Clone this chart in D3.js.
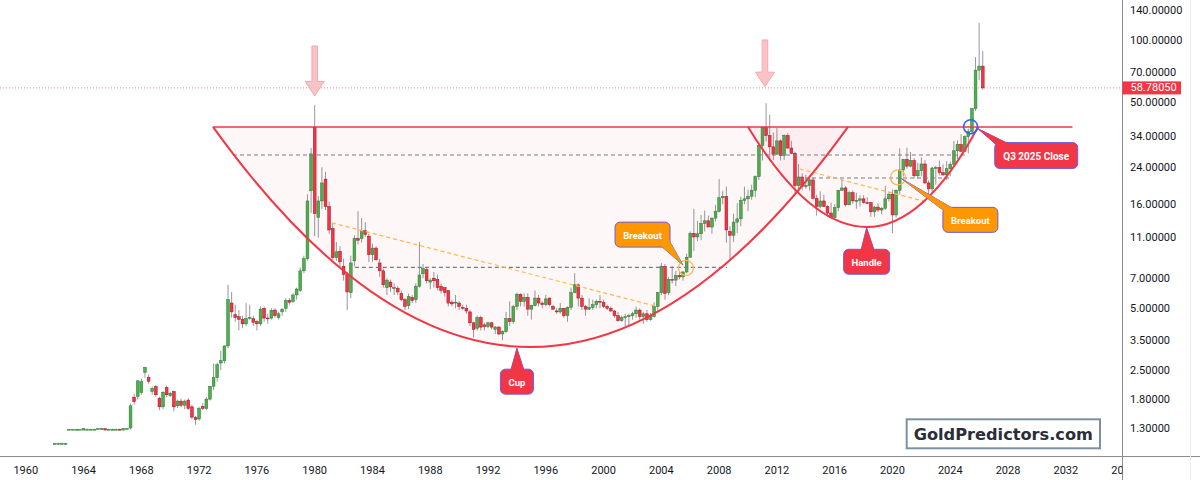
<!DOCTYPE html>
<html>
<head>
<meta charset="utf-8">
<script src="https://cdn.jsdelivr.net/npm/d3@7"></script>
<style>
  body { margin: 0; background: #fff; }
  svg { display: block; font-family: Roboto, "Liberation Sans", sans-serif; }
</style>
</head>
<body>
<svg id="chart" width="1200" height="480"></svg>
<script>
// quarterly silver candles, first candle = Q1 1962, one row per year (Q1..Q4)
const firstYear = 1962;
const open = [
  1.10,1.10,1.10,1.10, 1.28,1.29,1.29,1.29, 1.28,1.29,1.29,1.29, 1.29,1.30,1.30,1.29,
  1.29,1.29,1.29,1.28, 1.30,1.31,1.85,1.86, 1.95,2.44,2.31,1.97, 2.08,1.83,1.66,2.06,
  1.88,1.97,1.68,1.77, 1.69,1.79,1.66,1.47, 1.45,1.67,1.63,1.81, 2.09,2.30,2.71,2.78,
  3.28,5.30,4.65,4.55, 4.42,4.20,4.46,4.45, 4.30,4.20,5.00,4.48, 4.48,4.90,4.50,4.80,
  5.00,5.45,5.40,5.80, 6.10,7.60,8.70,18.6, 37.9,13.8,16.6,21.2, 15.6,12.2,8.80,9.45,
  8.00,7.30,5.95,8.50, 10.9,10.9,11.9,11.2, 9.10,9.80,8.30,7.60, 6.30,6.70,6.30,6.25,
  5.90,5.50,5.15,5.65, 5.50,6.40,7.35,7.70, 6.70,7.00,6.90,6.40, 6.30,6.10,5.35,5.30,
  5.30,5.05,5.00,4.80, 4.25,4.00,4.50,4.15, 4.08,4.25,3.95,4.05, 3.75,3.85,4.45,4.30,
  5.10,5.85,5.40,5.65, 4.95,5.15,5.60,5.30, 5.20,5.60,5.10,4.85, 4.80,5.00,4.60,5.05,
  5.95,6.50,5.60,5.10, 4.95,5.05,5.20,5.40, 5.35,5.10,5.00,4.85, 4.60,4.35,4.50,4.55,
  4.60,4.70,4.90,4.55, 4.70,4.40,4.55,5.10, 5.95,8.00,5.95,6.90, 6.85,7.20,7.10,7.50,
  8.85,11.55,11.1,11.5, 12.9,13.3,12.4,13.7, 14.8,17.2,17.4,11.8, 11.3,13.1,13.6,16.7,
  17.0,17.5,18.7,21.8, 30.9,37.9,34.5,30.4, 28.0,32.5,27.6,34.5, 30.0,28.3,19.7,21.7,
  19.5,19.7,21.0,17.1, 15.6,16.6,15.6,14.5, 13.8,15.4,18.7,19.2, 15.9,18.2,16.6,16.7,
  17.0,16.3,16.3,14.7, 15.5,15.0,15.3,17.0, 17.9,14.2,18.7,23.5, 26.4,24.5,26.1,22.0,
  23.3,25.1,20.3,19.0, 24.0,24.1,22.8,22.2, 23.8,25.0,29.1,31.2, 28.9,34.1,36.1,46.6,
  71.7,75.0
];
const high = [
  1.11,1.11,1.11,1.11, 1.29,1.29,1.29,1.29, 1.31,1.30,1.30,1.30, 1.31,1.31,1.30,1.30,
  1.30,1.30,1.30,1.31, 1.30,1.72,1.92,2.24, 2.28,2.60,2.38,2.08, 2.12,1.86,1.98,2.10,
  1.96,1.99,1.80,1.82, 1.80,1.83,1.70,1.50, 1.66,1.73,1.85,2.10, 2.70,2.72,3.10,3.30,
  6.50,6.00,5.20,4.90, 4.60,5.30,5.20,4.60, 4.40,5.10,5.10,4.70, 5.00,5.00,4.80,5.00,
  5.60,5.60,5.90,6.30, 7.90,9.00,17.9,30.0, 48.5,17.5,24.2,23.0, 16.5,12.9,10.5,10.0,
  8.70,7.50,9.00,11.3, 14.8,13.7,13.1,11.5, 10.3,10.0,8.70,7.80, 7.00,6.90,6.60,6.40,
  6.10,5.60,5.90,5.80, 6.60,10.5,8.20,7.90, 7.00,7.50,7.30,6.60, 6.30,6.10,5.50,5.80,
  5.40,5.20,5.20,4.90, 4.30,4.60,4.60,4.25, 4.30,4.30,4.10,4.10, 3.90,4.80,5.40,5.20,
  5.95,5.90,5.90,5.90, 5.20,6.10,5.80,5.40, 5.80,5.65,5.20,5.00, 5.30,5.00,5.10,6.30,
  7.40,6.60,5.80,5.20, 5.60,5.50,5.50,5.80, 5.50,5.20,5.10,4.90, 4.80,4.60,4.70,4.70,
  4.80,5.10,5.00,4.80, 4.90,4.75,5.35,6.00, 8.30,8.20,7.10,8.00, 7.60,7.50,7.60,9.20,
  11.8,15.2,13.3,14.2, 14.9,14.1,13.8,15.9, 21.2,18.6,19.5,12.5, 14.4,16.2,17.4,19.5,
  18.8,19.9,22.1,31.3, 38.2,49.5,43.5,35.7, 37.5,33.0,35.0,35.4, 32.5,28.8,25.1,22.6,
  22.2,21.6,21.6,17.8, 18.5,17.8,15.8,16.3, 16.0,18.8,21.1,19.6, 18.6,18.7,18.2,17.7,
  17.7,17.3,16.4,15.7, 16.2,15.5,19.7,18.2, 18.9,18.9,29.9,26.6, 30.1,28.7,26.8,25.4,
  27.0,26.2,20.9,24.3, 24.6,26.1,25.0,25.9, 25.8,32.5,32.7,35.0, 34.6,37.3,46.9,83.0,
  121.6,89.0
];
const low = [
  1.09,1.09,1.09,1.09, 1.28,1.28,1.28,1.29, 1.28,1.28,1.29,1.29, 1.29,1.29,1.28,1.29,
  1.28,1.28,1.28,1.28, 1.29,1.29,1.70,1.80, 1.90,2.30,2.15,1.90, 1.86,1.60,1.62,1.85,
  1.85,1.58,1.64,1.65, 1.62,1.60,1.45,1.36, 1.42,1.60,1.60,1.78, 2.00,2.20,2.50,2.70,
  3.20,4.50,4.30,3.90, 4.00,4.10,4.40,4.10, 3.90,4.10,4.30,4.20, 4.40,4.50,4.40,4.60,
  4.80,5.20,5.30,5.50, 6.00,7.40,8.50,14.5, 11.2,11.0,15.2,15.0, 11.5,8.60,8.50,7.90,
  6.80,4.90,5.60,8.00, 10.2,10.4,11.1,8.40, 8.40,8.50,7.10,6.30, 5.80,6.00,5.80,5.80,
  5.40,4.90,4.95,5.30, 5.30,6.30,7.00,6.60, 6.20,6.30,6.10,5.90, 5.70,5.10,5.10,5.00,
  4.90,4.90,4.70,4.10, 3.60,3.90,3.90,3.90, 4.00,3.95,3.75,3.70, 3.50,3.80,4.10,4.20,
  4.90,5.10,5.10,4.60, 4.40,5.10,5.10,5.00, 5.10,5.10,4.90,4.70, 4.70,4.50,4.30,4.90,
  5.90,5.10,4.90,4.60, 4.90,4.90,5.00,5.00, 5.00,4.90,4.80,4.50, 4.30,4.30,4.10,4.10,
  4.40,4.50,4.40,4.20, 4.30,4.35,4.50,4.80, 5.80,5.50,5.80,6.60, 6.40,6.90,6.80,7.40,
  8.80,9.50,10.6,10.7, 11.8,12.5,11.5,13.2, 14.6,16.0,10.4,8.50, 10.5,11.6,12.5,16.0,
  14.8,16.8,17.3,21.0, 26.1,32.3,26.1,26.2, 27.8,26.1,26.2,29.9, 28.0,18.2,18.2,18.8,
  19.0,18.6,16.9,14.1, 15.3,15.5,13.9,13.6, 13.7,14.8,18.6,15.6, 15.8,16.1,15.2,15.6,
  16.1,16.0,13.9,13.9, 14.7,14.3,15.0,16.5, 11.6,13.8,17.8,21.8, 23.8,24.2,21.4,21.4,
  21.9,20.1,17.6,18.1, 19.9,22.1,22.0,21.0, 21.9,24.9,26.5,28.8, 28.7,28.3,35.3,45.5,
  64.0,57.5
];
const close = [
  1.10,1.10,1.10,1.10, 1.29,1.29,1.29,1.29, 1.30,1.29,1.29,1.29, 1.30,1.30,1.28,1.29,
  1.29,1.29,1.28,1.30, 1.30,1.68,1.76,2.22, 2.20,2.58,2.21,2.04, 1.90,1.66,1.95,1.90,
  1.93,1.66,1.77,1.69, 1.77,1.63,1.48,1.44, 1.63,1.63,1.81,2.09, 2.30,2.66,2.78,3.28,
  5.50,4.80,4.50,4.42, 4.20,4.46,4.50,4.27, 4.20,4.95,4.48,4.45, 4.88,4.60,4.70,4.95,
  5.45,5.35,5.80,6.20, 7.60,8.70,16.6,28.1, 14.4,16.6,20.3,15.6, 12.0,8.80,9.40,8.40,
  7.30,6.00,8.30,10.9, 10.7,11.9,11.4,9.10, 9.80,8.60,7.60,6.50, 6.85,6.35,6.30,6.00,
  5.50,5.10,5.70,5.45, 6.40,7.25,7.80,6.80, 6.85,6.80,6.30,6.10, 5.95,5.30,5.25,5.35,
  5.10,5.00,4.85,4.25, 3.95,4.50,4.05,4.08, 4.25,4.05,4.05,3.75, 3.85,4.45,4.30,5.10,
  5.85,5.40,5.65,4.95, 5.15,5.60,5.30,5.20, 5.55,5.20,4.95,4.80, 5.00,4.60,5.05,5.95,
  6.50,5.60,5.10,4.95, 5.05,5.20,5.40,5.35, 5.10,5.00,4.85,4.60, 4.35,4.50,4.55,4.60,
  4.70,4.90,4.55,4.70, 4.40,4.55,5.10,5.95, 8.00,5.90,6.90,6.85, 7.20,7.10,7.50,8.85,
  11.55,11.1,11.5,12.9, 13.3,12.4,13.7,14.8, 17.2,17.5,12.0,11.3, 13.1,13.6,16.7,17.0,
  17.5,18.7,21.8,30.9, 37.9,34.5,30.4,28.0, 32.5,27.6,34.5,30.0, 28.3,19.7,21.7,19.5,
  19.7,21.0,17.1,15.6, 16.6,15.6,14.5,13.8, 15.4,18.7,19.2,15.9, 18.2,16.6,16.7,17.0,
  16.3,16.25,14.7,15.5, 15.0,15.3,17.0,17.9, 14.2,18.7,23.5,26.4, 24.5,26.1,22.0,23.3,
  25.1,20.3,19.0,24.0, 24.1,22.8,22.2,23.8, 25.0,29.1,31.2,28.9, 34.1,36.1,46.6,71.7,
  75.0,58.7805
];

const priceTicks = [1.3, 1.8, 2.5, 3.5, 5, 7, 11, 16, 24, 34, 50, 70, 100, 140];
const yearTicks = d3.range(1960, 2037, 4);
const lastPrice = 58.7805;

// cup & handle drawing anchors: [year, price]
const rim = { from: 1972.96, to: 2032.46, price: 38.0 };
const cup = { left: 1972.96, right: 2016.92, bottomYear: 1994.94, bottomPrice: 3.24 };
const handle = { left: 2010.0, right: 2025.92, bottomYear: 2018.21, bottomPrice: 12.41 };
const levels = [
  { from: 1974.34, to: 2025.04, price: 27.76 },
  { from: 1982.78, to: 2008.54, price: 7.89 },
  { from: 2013.46, to: 2023.98, price: 21.46 }
];
const trendLines = [
  [[1981.2, 12.98], [2003.55, 5.13]],
  [[2013.59, 23.74], [2022.38, 16.41]]
];
const breakoutRings = [[2005.7, 7.85], [2020.38, 21.6]];
const closeRing = [2025.41, 38.1];
const peakArrows = [[1980.0, 93.9, 53.7], [2011.17, 100.5, 59.6]];
// callouts: tip [year, price], box offset from tip (px), box size, tail base (relative to box centre)
const callouts = [
  { text: "Breakout", tip: [2005.5, 8.1], dx: -40.5, dy: -30.5, w: 55, h: 25, base: [[17, 10], [25, 3]], fill: "#ff9800" },
  { text: "Breakout", tip: [2020.63, 21.3], dx: 68.8, dy: 41.2, w: 55, h: 25, base: [[-25, -8], [-15, -10]], fill: "#ff9800" },
  { text: "Handle", tip: [2018.21, 12.3], dx: 0, dy: 34, w: 46, h: 25, base: [[-6, -10], [8, -10]], fill: "#f23645" },
  { text: "Cup", tip: [1994.0, 3.2], dx: 0, dy: 33.5, w: 33, h: 25, base: [[-6.5, -10], [7.5, -10]], fill: "#f23645" },
  { text: "Q3 2025 Close", tip: [2025.9, 37.3], dx: 58.5, dy: 27, w: 83, h: 26, base: [[-39, -10], [-26, -11]], fill: "#f23645" }
];

const svg = d3.select("#chart");
const plotRight = 1122.5, axisY = 456.5;

const x = d3.scaleLinear().domain([1960, 2036]).range([25.8, 1123.6]);
const y = d3.scaleLog().domain([1.3, 140]).range([428.7, 10.3]);

svg.append("rect").attr("width", 1200).attr("height", 480).attr("fill", "#fff");

const defs = svg.append("defs");
defs.append("clipPath").attr("id", "plot")
  .append("rect").attr("x", 0).attr("y", 0).attr("width", plotRight).attr("height", axisY);
defs.append("clipPath").attr("id", "xlab")
  .append("rect").attr("x", 0).attr("y", axisY).attr("width", plotRight).attr("height", 30);

const plot = svg.append("g").attr("clip-path", "url(#plot)");

// last price line
plot.append("line")
  .attr("x1", 0).attr("x2", plotRight)
  .attr("y1", y(lastPrice)).attr("y2", y(lastPrice))
  .attr("stroke", "#f23645").attr("stroke-width", 1)
  .attr("stroke-dasharray", "1,2").attr("opacity", 0.6);

const candles = close.map((c, i) => ({
  t: firstYear + i * 0.25, o: open[i], h: high[i], l: low[i], c: c
}));

const upBody = "#4caf50", upEdge = "#2b7a2f", downBody = "#f23645", downEdge = "#a3131d";

plot.append("g").selectAll("line").data(candles).enter().append("line")
  .attr("x1", d => x(d.t)).attr("x2", d => x(d.t))
  .attr("y1", d => y(d.h)).attr("y2", d => y(d.l))
  .attr("stroke", "#9598a1").attr("stroke-width", 1);

plot.append("g").selectAll("rect").data(candles).enter().append("rect")
  .attr("x", d => x(d.t) - 1.4)
  .attr("width", 2.8)
  .attr("y", d => y(Math.max(d.o, d.c)))
  .attr("height", d => Math.max(0.8, Math.abs(y(d.o) - y(d.c))))
  .attr("fill", d => d.c >= d.o ? upBody : downBody)
  .attr("stroke", d => d.c >= d.o ? upEdge : downEdge)
  .attr("stroke-width", 0.5);

// drawings
const ann = svg.append("g").attr("clip-path", "url(#plot)");

function arcPath(a) {
  const x0 = x(a.left), x1 = x(a.right), y0 = y(rim.price);
  const vx = x(a.bottomYear), vy = y(a.bottomPrice);
  const cx = 2 * vx - (x0 + x1) / 2, cy = 2 * vy - y0;
  return "M" + x0 + "," + y0 + " Q" + cx + "," + cy + " " + x1 + "," + y0;
}

[cup, handle].forEach(a => {
  ann.append("path").attr("d", arcPath(a) + " Z")
    .attr("fill", "#f23645").attr("fill-opacity", 0.04).attr("stroke", "none");
});

levels.forEach(l => {
  ann.append("line")
    .attr("x1", x(l.from)).attr("x2", x(l.to))
    .attr("y1", y(l.price)).attr("y2", y(l.price))
    .attr("stroke", "#787b86").attr("stroke-width", 1.2).attr("stroke-dasharray", "4,3");
});

trendLines.forEach(t => {
  ann.append("line")
    .attr("x1", x(t[0][0])).attr("y1", y(t[0][1]))
    .attr("x2", x(t[1][0])).attr("y2", y(t[1][1]))
    .attr("stroke", "#ffb74d").attr("stroke-width", 1.2).attr("stroke-dasharray", "4,3");
});

[cup, handle].forEach(a => {
  ann.append("path").attr("d", arcPath(a))
    .attr("fill", "none").attr("stroke", "#f23645").attr("stroke-width", 2);
});

ann.append("line")
  .attr("x1", x(rim.from)).attr("x2", x(rim.to))
  .attr("y1", y(rim.price)).attr("y2", y(rim.price))
  .attr("stroke", "#f23645").attr("stroke-width", 1.5);

breakoutRings.forEach(r => {
  ann.append("circle").attr("cx", x(r[0])).attr("cy", y(r[1])).attr("r", 7.5)
    .attr("fill", "none").attr("stroke", "#ffb74d").attr("stroke-width", 1.3);
});
ann.append("circle").attr("cx", x(closeRing[0])).attr("cy", y(closeRing[1])).attr("r", 7)
  .attr("fill", "none").attr("stroke", "#2962ff").attr("stroke-width", 1.5);

peakArrows.forEach(p => {
  const cx = x(p[0]), top = y(p[1]), tip = y(p[2]);
  const headTop = tip - 14.5;
  const pts = [[cx - 2.8, top], [cx + 2.8, top], [cx + 2.8, headTop], [cx + 9.5, headTop],
               [cx, tip], [cx - 9.5, headTop], [cx - 2.8, headTop]];
  ann.append("polygon").attr("points", pts.map(q => q.join(",")).join(" "))
    .attr("fill", "#f9bcc1").attr("fill-opacity", 0.9)
    .attr("stroke", "#f7a7ae").attr("stroke-width", 1);
});

callouts.forEach(c => {
  const tx = x(c.tip[0]), ty = y(c.tip[1]);
  const bx = tx + c.dx, by = ty + c.dy;
  const tail = [[tx, ty], [bx + c.base[0][0], by + c.base[0][1]], [bx + c.base[1][0], by + c.base[1][1]]];
  const tailPts = tail.map(q => q.join(",")).join(" ");
  ann.append("polygon").attr("points", tailPts)
    .attr("fill", c.fill).attr("stroke", "#6c5ce7").attr("stroke-width", 1);
  ann.append("rect")
    .attr("x", bx - c.w / 2).attr("y", by - c.h / 2)
    .attr("width", c.w).attr("height", c.h).attr("rx", 5)
    .attr("fill", c.fill).attr("stroke", "#6c5ce7").attr("stroke-width", 1);
  ann.append("polygon").attr("points", tailPts).attr("fill", c.fill);
  ann.append("text")
    .attr("x", bx).attr("y", by + 0.5)
    .attr("text-anchor", "middle").attr("dominant-baseline", "central")
    .attr("fill", "#fff").style("font-weight", "bold")
    .style("font-size", c.text.length > 10 ? "10px" : "9.5px")
    .text(c.text);
});

// watermark
svg.append("rect")
  .attr("x", 906.7).attr("y", 419.3).attr("width", 193.3).attr("height", 29)
  .attr("fill", "#fff").attr("stroke", "#7d8fa3").attr("stroke-width", 2);
svg.append("text")
  .attr("x", 1003.3).attr("y", 434)
  .attr("text-anchor", "middle").attr("dominant-baseline", "central")
  .attr("fill", "#2a2e39")
  .style("font-family", "'DejaVu Sans', sans-serif")
  .style("font-weight", "bold").style("font-size", "16.2px")
  .text("GoldPredictors.com");

// axes
svg.append("line").attr("x1", 0).attr("x2", 1200).attr("y1", axisY).attr("y2", axisY)
  .attr("stroke", "#8a8d96").attr("stroke-width", 1);
svg.append("line").attr("x1", plotRight).attr("x2", plotRight).attr("y1", 0).attr("y2", 480)
  .attr("stroke", "#8a8d96").attr("stroke-width", 1);
svg.append("line").attr("x1", 1190.5).attr("x2", 1190.5).attr("y1", 0).attr("y2", 480)
  .attr("stroke", "#eceef2").attr("stroke-width", 1);

svg.append("g").attr("clip-path", "url(#xlab)")
  .selectAll("text").data(yearTicks).enter().append("text")
  .attr("x", d => x(d)).attr("y", 470.5)
  .attr("text-anchor", "middle").attr("dominant-baseline", "central")
  .attr("fill", "#131722").style("font-size", "11px")
  .text(d => d);

svg.append("g").selectAll("text").data(priceTicks).enter().append("text")
  .attr("x", 1130).attr("y", d => y(d))
  .attr("dominant-baseline", "central")
  .attr("fill", "#131722").style("font-size", "11px")
  .text(d3.format(".5f"));

svg.append("rect")
  .attr("x", plotRight).attr("y", y(lastPrice) - 6.5).attr("width", 58.5).attr("height", 13)
  .attr("fill", "#f23645");
svg.append("text")
  .attr("x", 1130.5).attr("y", y(lastPrice))
  .attr("dominant-baseline", "central")
  .attr("fill", "#fff").style("font-size", "11px")
  .text(d3.format(".5f")(lastPrice));
</script>
</body>
</html>
